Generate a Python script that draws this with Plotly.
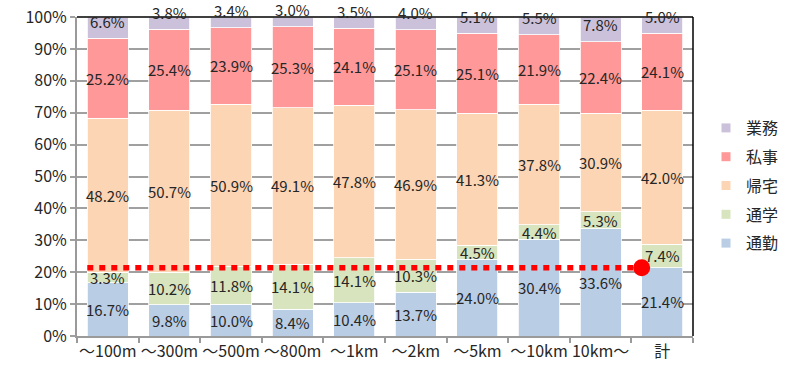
import plotly.graph_objects as go

# Trip purpose share by trip distance (%)
categories = ["～100m", "～300m", "～500m", "～800m", "～1km", "～2km", "～5km", "～10km", "10km～", "計"]
tsukin = [16.7, 9.8, 10.0, 8.4, 10.4, 13.7, 24.0, 30.4, 33.6, 21.4]    # 通勤
tsugaku = [3.3, 10.2, 11.8, 14.1, 14.1, 10.3, 4.5, 4.4, 5.3, 7.4]      # 通学
kitaku = [48.2, 50.7, 50.9, 49.1, 47.8, 46.9, 41.3, 37.8, 30.9, 42.0]  # 帰宅
shiji = [25.2, 25.4, 23.9, 25.3, 24.1, 25.1, 25.1, 21.9, 22.4, 24.1]   # 私事
gyomu = [6.6, 3.8, 3.4, 3.0, 3.5, 4.0, 5.1, 5.5, 7.8, 5.0]             # 業務

series = [
    ("通勤", tsukin, "#B9CDE5"),
    ("通学", tsugaku, "#D7E4BD"),
    ("帰宅", kitaku, "#FCD5B5"),
    ("私事", shiji, "#FF9999"),
    ("業務", gyomu, "#CCC1DA"),
]

FONT = "Noto Sans CJK JP, sans-serif"
TEXT_COLOR = "#262626"
LABEL_SIZE = 15

fig = go.Figure()
base = [0.0] * len(categories)
annotations = []
for name, vals, color in series:
    fig.add_trace(go.Bar(
        x=categories, y=vals, name=name, marker_color=color,
        marker_line=dict(color="white", width=0.8),
        showlegend=False, hoverinfo="skip",
    ))
    for i, v in enumerate(vals):
        if name == "業務":
            # top segment labels sit just above the segment base
            annotations.append(dict(x=categories[i], y=base[i], text=f"{v:.1f}%",
                                    showarrow=False, yanchor="middle", yshift=17,
                                    font=dict(family=FONT, size=LABEL_SIZE, color=TEXT_COLOR)))
        else:
            annotations.append(dict(x=categories[i], y=base[i] + v / 2, text=f"{v:.1f}%",
                                    showarrow=False, yanchor="middle",
                                    font=dict(family=FONT, size=LABEL_SIZE, color=TEXT_COLOR)))
        base[i] += v

# legend entries with small square swatches (top to bottom: 業務 ... 通勤)
for name, vals, color in reversed(series):
    fig.add_trace(go.Scatter(
        x=[None], y=[None], mode="markers", name=name, legendgroup=name,
        marker=dict(symbol="square", size=9, color=color),
    ))

total_commute = tsukin[-1]
last = len(categories) - 1
half_bar = (1 - 0.334) / 2
line_end = last - half_bar

shapes = [
    # reference line at the overall commute share
    dict(type="line", xref="x", yref="y", x0=-half_bar, x1=line_end,
         y0=total_commute, y1=total_commute,
         line=dict(color="#FF0000", width=5.5, dash="6px,6px"), layer="above"),
    dict(type="circle", xref="x", yref="y", xsizemode="pixel", ysizemode="pixel",
         xanchor=line_end, yanchor=total_commute, x0=-8.5, x1=8.5, y0=-8.5, y1=8.5,
         fillcolor="#FF0000", line=dict(width=0), layer="above"),
    # top and right frame
    dict(type="line", xref="paper", yref="paper", x0=0, x1=1, y0=1, y1=1,
         line=dict(color="black", width=1.5), layer="above"),
    dict(type="line", xref="paper", yref="paper", x0=1, x1=1, y0=0, y1=1,
         line=dict(color="black", width=1.5), layer="above"),
]

fig.update_layout(
    width=810, height=371,
    margin=dict(l=77, r=117, t=17, b=35, autoexpand=False),
    barmode="stack", bargap=0.334,
    plot_bgcolor="white", paper_bgcolor="white",
    font=dict(family=FONT, size=16, color=TEXT_COLOR),
    annotations=annotations,
    shapes=shapes,
    legend=dict(
        xref="container", yref="container", x=706 / 810, y=1 - 111 / 371,
        xanchor="left", yanchor="top", traceorder="grouped", tracegroupgap=5,
        font=dict(family=FONT, size=16, color=TEXT_COLOR),
        itemwidth=30, bgcolor="rgba(0,0,0,0)",
    ),
    xaxis=dict(
        type="category", showgrid=False, showline=True, linecolor="#9a9a9a", linewidth=2,
        ticks="outside", tickson="boundaries", ticklen=5, tickcolor="#9a9a9a", tickwidth=1.5,
        tickangle=0, automargin=False,
        tickfont=dict(family=FONT, size=16, color=TEXT_COLOR),
    ),
    yaxis=dict(
        range=[0, 100], dtick=10, ticksuffix="%", showgrid=True, gridcolor="#a0a0a0",
        gridwidth=1.5, showline=True, linecolor="#9a9a9a", linewidth=2,
        ticks="outside", ticklen=5, tickcolor="#a0a0a0", tickwidth=1.5, automargin=False,
        tickfont=dict(family=FONT, size=16, color=TEXT_COLOR), zeroline=False,
    ),
)

fig.write_html("out.html")
